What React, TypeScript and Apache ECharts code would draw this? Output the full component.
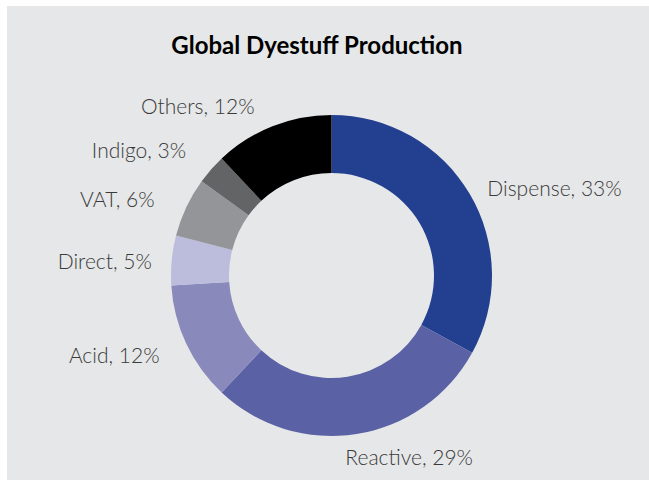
import React, { useEffect, useRef } from "react";
import * as echarts from "echarts";

const categories = ["Dispense", "Reactive", "Acid", "Direct", "VAT", "Indigo", "Others"];
const values = [33, 29, 12, 5, 6, 3, 12];
const colors = ["#233f8f", "#5a62a5", "#8a89bb", "#bcbcdc", "#939598", "#636466", "#000000"];
const titleText = "Global Dyestuff Production";

export default function App() {
  const ref = useRef<HTMLDivElement>(null);
  useEffect(() => {
    if (!ref.current) return;
    // small label nudges to mimic the reference's label placement
    const nudges: Record<string, [number, number]> = {
      Dispense: [-8, 6],
      Reactive: [-20, -1],
      Acid: [0, 0],
      Direct: [9, 2],
      VAT: [-5, 2],
      Indigo: [-2, -4],
      Others: [-4, 2],
    };
    const chart = echarts.init(ref.current, null, { renderer: "svg" });
    chart.setOption({
      animation: false,
      backgroundColor: "#e6e7e8",
      title: {
        text: titleText,
        left: 305,
        top: 21,
        textAlign: "center",
        textStyle: { fontFamily: "Lato", fontWeight: "bold", fontSize: 24, color: "#000" },
      },
      series: [
        {
          type: "pie",
          center: [324.5, 269.5],
          radius: [102.5, 160.5],
          startAngle: 90,
          clockwise: true,
          avoidLabelOverlap: true,
          itemStyle: { borderWidth: 0 },
          label: {
            show: true,
            position: "outside",
            formatter: (p: any) => `${p.name}, ${p.value}%`,
            fontFamily: "Lato",
            fontWeight: 300,
            fontSize: 21,
            color: "#3a3a3a",
            textBorderWidth: 0,
            textBorderColor: "transparent",
          },
          labelLine: { show: false, length: 24, length2: 0 },
          labelLayout: (p: any) => {
            const n = nudges[categories[p.dataIndex]] || [0, 0];
            return { dx: n[0], dy: n[1] };
          },
          data: categories.map((c, i) => ({ name: c, value: values[i], itemStyle: { color: colors[i] } })),
        },
      ],
    });
    return () => chart.dispose();
  }, []);
  return (
    <div
      ref={ref}
      style={{ position: "absolute", left: 7, top: 6, width: 642, height: 474 }}
    />
  );
}
